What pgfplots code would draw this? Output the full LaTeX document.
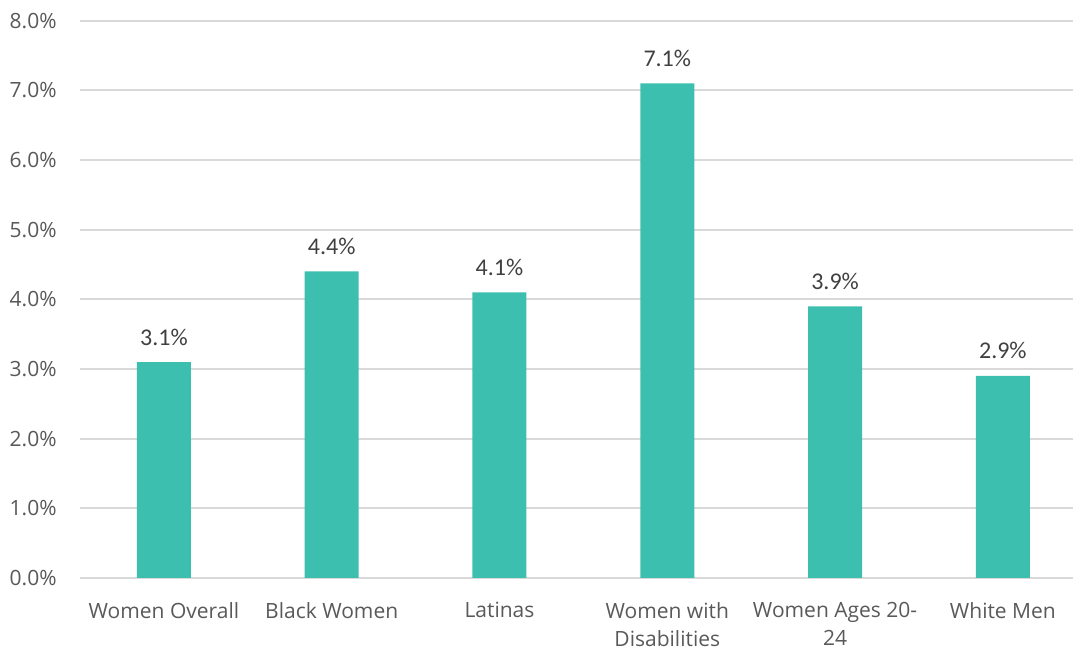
\documentclass[border=0pt]{standalone}
\usepackage{pgfplots}
\pgfplotsset{compat=1.18}
\usetikzlibrary{calc}
\usepackage{fontspec}
\setmainfont{Open Sans}
\newfontfamily\carlito{Carlito}
\definecolor{barteal}{HTML}{3DBFAF}
\definecolor{gridgray}{HTML}{D9D9D9}
\definecolor{txtgray}{HTML}{595959}
\definecolor{lblgray}{HTML}{404040}
\begin{document}
\begin{tikzpicture}
\begin{axis}[
  name=ax,
  at={(0,0)}, anchor=south west,
  scale only axis,
  width=496.5pt, height=278.65pt,
  xmin=-0.5, xmax=5.418,
  ymin=0, ymax=8,
  ytick={0,1,2,3,4,5,6,7,8},
  xtick={0,1,2,3,4,5},
  xticklabels={Women Overall, Black Women, Latinas, {Women with\\Disabilities}, {Women Ages 20-\\24}, White Men},
  /pgf/number format/assume math mode=true,
  yticklabel={\pgfmathprintnumber[fixed,fixed zerofill,precision=1]{\tick}\%},
  yticklabel style={font=\fontsize{10.5}{12.6}\selectfont, text=txtgray, anchor=east, inner sep=0pt, xshift=-11.5pt},
  xticklabel style={font=\fontsize{10.5}{14}\selectfont, text=txtgray, align=center, anchor=north, inner sep=0pt, yshift=-12pt},
  major tick length=0pt,
  axis line style={draw=none},
  ymajorgrids=true,
  xmajorgrids=false,
  grid style={gridgray, line width=1pt},
  clip=false,
]
\addplot[ybar, bar width=27pt, fill=barteal, draw=none,
  nodes near coords={\pgfmathprintnumber[fixed,fixed zerofill,precision=1]{\pgfplotspointmeta}\%},
  every node near coord/.append style={font=\carlito\fontsize{12}{14}\selectfont, text=lblgray, anchor=base, inner sep=0pt, yshift=8.5pt}
] coordinates {(0,3.1) (1,4.4) (2,4.1) (3,7.1) (4,3.9) (5,2.9)};
\end{axis}
\pgfresetboundingbox
\path[use as bounding box] ($(ax.south west)+(-40pt,-34pt)$) rectangle ($(ax.north east)+(0pt,10.35pt)$);
\end{tikzpicture}
\end{document}
